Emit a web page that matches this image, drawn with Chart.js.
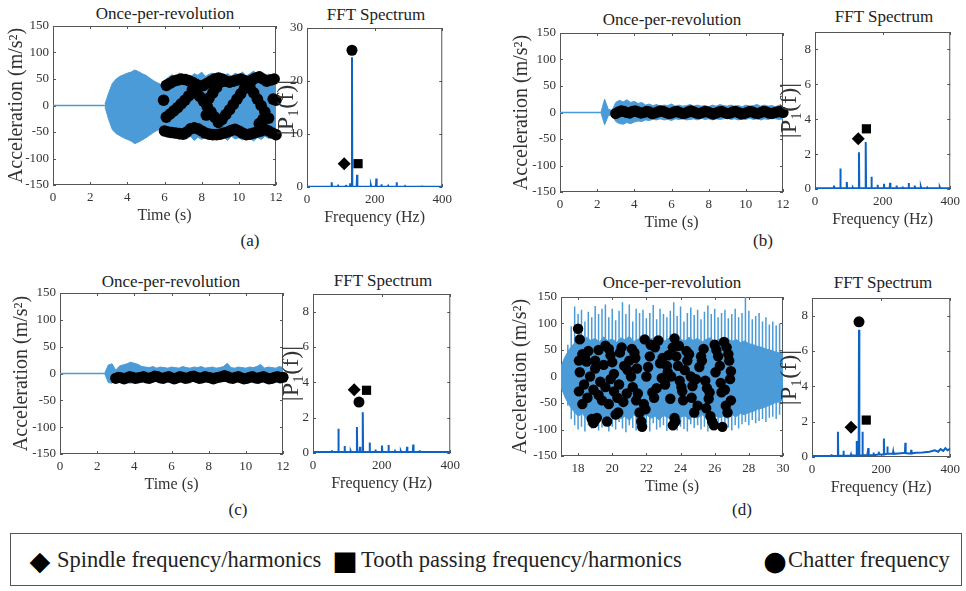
<!DOCTYPE html>
<html>
<head>
<meta charset="utf-8">
<script src="https://cdn.jsdelivr.net/npm/chart.js@4.4.0/dist/chart.umd.min.js"></script>
<style>
body { margin: 0; background: #fff; }
#fig { position: relative; width: 966px; height: 591px; overflow: hidden; font-family: "Liberation Serif", "Times New Roman", "DejaVu Serif", serif; color: #222; }
#fig canvas { position: absolute; }
.t { position: absolute; transform: translate(-50%, -50%); white-space: nowrap; font-size: 17px; }
.lab { position: absolute; transform: translate(-50%, -50%); font-size: 17px; }
.legend { position: absolute; left: 10px; top: 533px; width: 950px; height: 51px; border: 1px solid #555; }
.legend span { position: absolute; top: 50%; transform: translateY(-50%); white-space: nowrap; font-size: 22.5px; }
.legend .sym { font-family: "DejaVu Sans", sans-serif; font-size: 27px; color: #000; transform: translate(-50%, -50%); }
</style>
</head>
<body>
<div id="fig">
  <div class="t" style="left:165px;top:14px">Once-per-revolution</div>
  <div class="t" style="left:376px;top:15px">FFT Spectrum</div>
  <div class="t" style="left:672px;top:20px">Once-per-revolution</div>
  <div class="t" style="left:884px;top:17px">FFT Spectrum</div>
  <div class="t" style="left:171px;top:282px">Once-per-revolution</div>
  <div class="t" style="left:383px;top:281px">FFT Spectrum</div>
  <div class="t" style="left:672px;top:283px">Once-per-revolution</div>
  <div class="t" style="left:883px;top:283px">FFT Spectrum</div>
  <div class="lab" style="left:250px;top:241px">(a)</div>
  <div class="lab" style="left:763px;top:241px">(b)</div>
  <div class="lab" style="left:238px;top:510px">(c)</div>
  <div class="lab" style="left:742px;top:510px">(d)</div>
  <div class="legend">
    <span class="sym" style="left:29px">◆</span>
    <span style="left:46px">Spindle frequency/harmonics</span>
    <span class="sym" style="left:334px">■</span>
    <span style="left:350px">Tooth passing frequency/harmonics</span>
    <span class="sym" style="left:764px">●</span>
    <span style="left:777px">Chatter frequency</span>
  </div>
</div>
<script>
"use strict";

// tick labels
const timeTicks = [0, 2, 4, 6, 8, 10, 12];
const timeTicksD = [18, 20, 22, 24, 26, 28, 30];
const accTicks = [-150, -100, -50, 0, 50, 100, 150];
const freqTicks = [0, 200, 400];
const fftTicksA = [0, 10, 20, 30];
const fftTicks = [0, 2, 4, 6, 8];

// vibration envelopes (m/s^2), sampled every envStep s from envStart
const envStartA = 2.8, envStepA = 0.2;
const upperA = [3, 24, 42, 50, 55, 58, 61, 63, 67, 64, 60, 57, 52, 47, 43, 40, 47, 53, 58, 55,
  61, 56, 59, 54, 60, 57, 63, 55, 59, 61, 56, 62, 57, 60, 55, 61, 58, 63, 56, 60, 65, 57, 61, 55, 59, 56, 60];
const lowerA = [-3, -27, -46, -53, -57, -61, -64, -67, -72, -69, -65, -61, -56, -51, -47, -43, -49, -56, -61, -58,
  -64, -60, -63, -58, -66, -60, -64, -58, -62, -65, -59, -63, -60, -66, -58, -63, -61, -65, -58, -62, -67, -60, -64, -58, -62, -59, -63];

const envStartB = 2.2, envStepB = 0.2;
const upperB = [0, 25, 6, 4, 19, 23, 20, 24, 19, 21, 17, 19, 14, 16, 13, 15, 12, 14, 13, 16,
  12, 14, 12, 13, 15, 12, 14, 12, 13, 11, 14, 12, 15, 13, 12, 14, 12, 13, 11, 14, 12, 13, 15, 12, 14, 12, 13, 11, 14, 12];
const lowerB = [0, -23, -6, -4, -17, -21, -22, -19, -21, -18, -16, -17, -14, -15, -13, -14, -12, -14, -13, -15,
  -12, -13, -12, -14, -13, -12, -14, -11, -13, -12, -14, -12, -13, -12, -11, -13, -12, -14, -12, -13, -11, -13, -12, -14, -12, -13, -11, -12, -13, -12];

const envStartC = 2.4, envStepC = 0.2;
const upperC = [0, 16, 18, 6, 14, 16, 18, 21, 19, 17, 13, 12, 11, 13, 10, 12, 11, 10, 12, 11,
  10, 13, 11, 10, 12, 11, 13, 10, 11, 12, 10, 11, 13, 19, 11, 10, 12, 11, 10, 12, 11, 13, 17, 10, 12, 11, 10, 13, 11];
const lowerC = [0, -17, -18, -6, -14, -16, -17, -18, -17, -16, -15, -14, -15, -13, -15, -14, -13, -15, -14, -13,
  -14, -15, -13, -14, -15, -13, -14, -15, -13, -14, -15, -13, -14, -15, -13, -14, -15, -13, -14, -15, -13, -14, -15, -13, -14, -13, -15, -14, -13];

const envStartD = 17, envStepD = 0.25;
const upperD = [20, 38, 52, 62, 70, 66, 74, 68, 72, 65, 75, 67, 71, 64, 73, 69, 76, 66, 70, 74,
  65, 72, 68, 75, 66, 71, 73, 64, 70, 67, 74, 68, 72, 65, 70, 73, 66, 71, 68, 72, 66, 70, 64, 67, 62, 60, 57, 55, 52, 50, 47, 45, 42];
const lowerD = [-20, -40, -55, -66, -75, -70, -80, -72, -78, -70, -82, -74, -77, -70, -80, -75, -83, -72, -78, -81,
  -72, -79, -75, -82, -73, -78, -80, -71, -77, -74, -81, -75, -79, -72, -77, -80, -73, -78, -75, -79, -72, -76, -70, -72, -68, -66, -62, -60, -57, -54, -50, -48, -45];

// isolated peaks of the chatter record (d)
const spikeStartD = 17.4, spikeStepD = 0.2;
const spikeTopD = [60, 95, 132, 118, 126, 104, 122, 112, 133, 118, 128, 136, 112, 128, 106, 124, 140, 118, 136, 104,
  128, 120, 126, 110, 120, 135, 108, 128, 118, 112, 124, 140, 114, 132, 104, 120, 130, 116, 126, 108,
  122, 134, 118, 128, 112, 120, 126, 110, 118, 128, 112, 120, 150, 124, 108, 114, 120, 104, 112, 98, 104, 96, 100];
const spikeBotD = [-55, -80, -92, -100, -95, -104, -92, -98, -88, -102, -96, -90, -104, -95, -100, -86, -98, -105, -92, -97,
  -102, -90, -99, -95, -104, -88, -100, -96, -92, -103, -97, -88, -102, -95, -99, -104, -90, -97, -92, -100,
  -95, -104, -90, -98, -93, -100, -88, -96, -102, -92, -98, -90, -86, -92, -82, -88, -84, -80, -86, -78, -76, -80, -72];

// once-per-revolution samples
const dotsAT = [6.1, 6.3, 6.5, 6.7, 6.9, 7.1, 7.3, 7.5, 7.7, 7.9, 8.1, 8.3, 8.5, 8.7, 8.9, 9.1, 9.3, 9.5, 9.7, 9.9,
  10.1, 10.3, 10.5, 10.7, 10.9, 11.1, 11.3, 11.5, 11.7, 11.9,
  6.0, 6.2, 6.4, 6.6, 6.8, 7.0, 7.2, 7.4, 7.6, 7.8, 8.0, 8.2, 8.4, 8.6, 8.8, 9.0, 9.2, 9.4, 9.6, 9.8,
  10.0, 10.2, 10.4, 10.6, 10.8, 11.0, 11.2, 11.4, 11.6, 11.8, 12.0,
  5.95, 6.1, 6.3, 6.5, 6.7, 6.9, 7.1, 7.3, 7.5, 7.7, 7.9, 8.1, 8.3, 8.5, 8.7, 8.9, 8.25, 8.4, 8.6, 8.8, 9.0,
  9.1, 9.3, 9.5, 9.7, 9.9, 10.1, 10.3, 10.6, 10.8, 11.0, 11.2, 11.4, 11.6, 11.1, 11.3, 11.85, 12.0];
const dotsAV = [38, 42, 46, 48, 50, 49, 47, 44, 40, 36, 38, 42, 46, 50, 52, 50, 46, 44, 46, 48,
  50, 47, 44, 48, 52, 54, 50, 46, 48, 50,
  -48, -50, -51, -52, -53, -54, -50, -44, -42, -44, -48, -52, -54, -55, -55, -54, -52, -50, -47, -45,
  -48, -52, -55, -54, -52, -50, -48, -45, -48, -52, -55,
  10, -22, -16, -10, -4, 3, 10, 18, 30, 24, 17, 8, -2, -12, -22, -32, -18, 14, 24, 34, 44,
  -26, -17, -8, 2, 12, 22, 32, 34, 24, 12, 0, -12, -24, -34, -26, 12, 10];

const dotsStartB = 3.0, dotsStepB = 0.15;
const dotsB = [-2, 1, 3, 2, 0, -1, 2, 3, 1, -1, 0, 2, 1, -2, -1, 1, 3, 2, 0, -2,
  -1, 1, 2, 0, -2, -1, 1, 3, 1, -1, -2, 0, 2, 1, -1, -3, -1, 1, 2, 0,
  -2, -1, 1, 2, 0, -3, -2, 0, 2, 1, -1, -2, 0, 2, 1, -1, -2, 0, 1, 2, 0];

const dotsStartC = 3.0, dotsStepC = 0.15;
const dotsC = [-9, -7, -8, -10, -8, -6, -7, -9, -8, -7, -6, -8, -9, -7, -5, -6, -8, -9, -7, -6,
  -8, -10, -8, -6, -7, -9, -8, -6, -5, -7, -9, -8, -6, -7, -8, -10, -8, -7, -6, -4,
  -6, -8, -9, -7, -6, -8, -10, -9, -7, -6, -8, -9, -7, -6, -8, -10, -9, -7, -6, -8, -7];

const dotsDT = [18.0, 18.1, 18.05, 18.1, 18.05, 18.25, 18.25, 18.5, 18.55, 18.35, 18.7, 18.8, 18.9, 19.0, 19.1, 19.0, 19.2, 19.0, 19.2, 19.4,
  19.6, 19.6, 19.8, 19.9, 20.0, 19.8, 19.7, 20.1, 20.1, 20.3, 20.2, 20.35, 20.45, 20.55, 20.65, 20.85, 20.9, 21.0, 21.1, 21.2,
  21.3, 21.35, 21.45, 21.5, 21.6, 21.7, 21.75, 21.85, 21.9, 22.0, 22.1, 22.2, 22.35, 22.45, 22.5, 22.7, 22.8, 22.9, 23.1, 23.2,
  23.3, 23.45, 23.55, 23.7, 23.65, 23.55, 23.65, 23.75, 23.85, 23.95, 24.05, 24.15, 24.25, 24.4, 24.5, 24.6, 24.7, 24.8, 25.0, 25.1,
  25.2, 25.35, 25.45, 25.55, 25.65, 25.75, 25.85, 25.95, 26.0, 26.1, 26.2, 26.3, 26.4, 26.45, 26.55, 26.65, 26.75, 26.7, 26.85, 26.95,
  26.9, 26.95,
  18.4, 18.6, 18.9, 19.3, 19.5, 19.9, 20.4, 20.7, 21.15, 21.4, 21.95, 22.25, 22.6, 22.95, 23.25, 23.4, 23.9, 24.1, 24.35, 24.65,
  24.9, 25.25, 25.5, 25.7, 26.05, 26.35, 26.6, 26.8];
const dotsDV = [90, 70, 30, 8, -28, -52, 42, 28, -40, -15, 0, -80, -88, -82, -78, 30, 50, 15, -35, -45,
  -20, 58, 52, 40, 27, -52, -85, 5, -28, -40, -72, -68, 45, 55, -48, -32, 12, 30, 0, -20,
  45, 35, 15, -32, -68, -85, -95, -52, 70, 0, 18, 38, -30, -40, 55, 68, 25, -3, -15, 20,
  40, 0, -92, -85, -78, 55, 72, 38, 20, -8, -20, -45, 12, 30, 42, 0, -18, -68, -55, 18,
  38, 52, -8, -22, -42, -75, -85, -92, 60, 50, 38, 20, -30, -95, 65, -55, -68, 55, 30, 10,
  -5, -45,
  35, 48, -25, -10, 22, -5, -15, 20, 52, -45, -62, 60, -22, 35, 8, -42, 58, -28, 48, -40,
  -5, 30, -60, -30, 8, -12, -25, 42];

// FFT peaks: frequency (Hz) and |P1(f)|
const peakFA = [55, 73, 92, 115, 128, 133, 148, 170, 189, 205, 220, 240, 265, 290, 315, 339, 365];
const peakAA = [0.15, 0.9, 0.2, 0.4, 0.7, 24.5, 2.3, 0.25, 0.3, 1.6, 0.5, 0.2, 0.9, 0.15, 0.2, 0.3, 0.15];
const peakFB = [18, 37, 56, 75, 94, 112, 130, 150, 167, 185, 204, 222, 241, 259, 277, 295, 313, 332, 350, 369, 387];
const peakAB = [0.05, 0.05, 0.2, 1.18, 0.4, 0.08, 2.1, 2.7, 0.7, 0.25, 0.3, 0.35, 0.2, 0.15, 0.35, 0.2, 0.12, 0.08, 0.08, 0.1, 0.05];
const peakFC = [18, 37, 55, 74, 92, 110, 128, 137, 145, 165, 182, 201, 220, 239, 256, 274, 292, 311, 330, 366];
const peakAC = [0.05, 0.05, 0.15, 1.37, 0.4, 0.1, 1.47, 0.35, 2.3, 0.6, 0.2, 0.42, 0.45, 0.1, 0.1, 0.35, 0.48, 0.15, 0.05, 0.05];
const peakFD = [56, 75, 91, 113, 129, 136, 146, 163, 178, 193, 208, 218, 235, 270, 287];
const peakAD = [0.15, 1.43, 0.35, 0.15, 0.9, 7.2, 1.43, 0.5, 0.25, 0.3, 1.05, 0.6, 0.3, 0.8, 0.4];

// noise floor under the peaks
const floorF = [0, 400];
const floorA = [0.05, 0.05];
const floorFD = [0, 40, 80, 120, 160, 200, 230, 250, 265, 280, 300, 320, 340, 355, 365, 372, 380, 386, 392, 398, 400];
const floorAD = [0.05, 0.06, 0.07, 0.08, 0.1, 0.14, 0.18, 0.2, 0.22, 0.2, 0.24, 0.26, 0.3, 0.38, 0.3, 0.45, 0.35, 0.5, 0.38, 0.45, 0.4];

// marked frequencies [Hz, |P1|]: spindle, tooth passing, chatter
const spindleA = [110, 4.4], toothA = [151, 4.4], chatterA = [133, 25.8];
const spindleB = [128, 2.88], toothB = [152, 3.45];
const spindleC = [120, 3.58], toothC = [156, 3.55], chatterC = [134, 2.88];
const spindleD = [113, 1.68], toothD = [157, 2.09], chatterD = [136, 7.65];

const font = "'Liberation Serif', 'Times New Roman', 'DejaVu Serif', serif";
const sigBlue = "#4a9bd8";
const fftBlue = "#0d62c4";
const boxColor = "#555";

const boxPlugin = {
    id: "box",
    beforeDatasetsDraw(chart) {
        const { ctx, chartArea: a, scales } = chart;
        ctx.save();
        ctx.strokeStyle = boxColor;
        ctx.lineWidth = 1;
        ctx.strokeRect(a.left + 0.5, a.top + 0.5, a.right - a.left - 1, a.bottom - a.top - 1);
        ctx.beginPath();
        scales.x.ticks.forEach(t => {
            const px = Math.round(scales.x.getPixelForValue(t.value)) + 0.5;
            ctx.moveTo(px, a.bottom); ctx.lineTo(px, a.bottom - 3);
            ctx.moveTo(px, a.top); ctx.lineTo(px, a.top + 3);
        });
        scales.y.ticks.forEach(t => {
            const py = Math.round(scales.y.getPixelForValue(t.value)) + 0.5;
            ctx.moveTo(a.left, py); ctx.lineTo(a.left + 3, py);
            ctx.moveTo(a.right, py); ctx.lineTo(a.right - 3, py);
        });
        ctx.stroke();
        ctx.restore();
    }
};

function axis(min, max, ticks, title, titleSize, fit, pad) {
    return {
        type: "linear", min: min, max: max,
        afterBuildTicks: s => { s.ticks = ticks.map(v => ({ value: v })); },
        afterFit: fit,
        grid: { display: false, drawTicks: false },
        border: { display: false },
        ticks: { color: "#333", font: { family: font, size: 13 }, padding: pad, maxRotation: 0, autoSkip: false, callback: v => String(v) },
        title: { display: true, text: title, color: "#333", font: { family: font, size: titleSize }, padding: 0 }
    };
}

function makeChart(o) {
    const padTop = 12, padRight = 12, xH = 40;
    const a = o.area;
    const canvas = document.createElement("canvas");
    canvas.width = o.yW + (a.r - a.l) + padRight;
    canvas.height = padTop + (a.b - a.t) + xH;
    canvas.style.left = (a.l - o.yW) + "px";
    canvas.style.top = (a.t - padTop) + "px";
    document.getElementById("fig").appendChild(canvas);
    new Chart(canvas, {
        type: "line",
        data: { datasets: o.datasets },
        options: {
            responsive: false,
            animation: false,
            devicePixelRatio: 1,
            layout: { padding: { left: 0, top: padTop, right: padRight, bottom: 0 } },
            plugins: { legend: { display: false }, tooltip: { enabled: false } },
            elements: { point: { radius: 0 }, line: { tension: 0 } },
            scales: {
                x: axis(o.x[0], o.x[1], o.xTicks, o.xTitle, 16, s => { s.height = xH; }, 5),
                y: axis(o.y[0], o.y[1], o.yTicks, o.yTitle, o.yTitleSize, s => { s.width = o.yW; }, 4)
            }
        },
        plugins: [boxPlugin]
    });
}

function envelope(start, step, values) {
    return values.map((v, i) => ({ x: start + i * step, y: v }));
}

// datasets with a higher order are painted first (underneath)
function signalSets(start, step, upper, lower, withLead) {
    const sets = [];
    if (withLead) {
        sets.push({ data: [{ x: 0, y: 0 }, { x: start, y: 0 }], borderColor: sigBlue, borderWidth: 1.5, order: 2 });
    }
    sets.push({ data: envelope(start, step, upper), borderColor: sigBlue, borderWidth: 1, fill: false, order: 2 });
    sets.push({ data: envelope(start, step, lower), borderColor: sigBlue, borderWidth: 1, fill: "-1", backgroundColor: sigBlue, order: 2 });
    return sets;
}

function dotSet(times, values, r) {
    return {
        data: values.map((v, i) => ({ x: times[i], y: v })), order: 0,
        showLine: false, pointRadius: r, pointBackgroundColor: "#000", pointBorderWidth: 0, clip: false
    };
}

function spectrum(peakF, peakA, fF, fA) {
    const base = f => {
        let best = 0;
        fF.forEach((g, i) => { if (Math.abs(g - f) < Math.abs(fF[best] - f)) best = i; });
        return fA[best];
    };
    const pts = fF.map((f, i) => ({ x: f, y: fA[i] }));
    peakF.forEach((f, i) => {
        pts.push({ x: f - 1, y: base(f) }, { x: f, y: peakA[i] }, { x: f + 1, y: base(f) });
    });
    return pts.sort((p, q) => p.x - q.x);
}

function marker(pt, style, r) {
    return {
        data: [{ x: pt[0], y: pt[1] }], showLine: false, pointStyle: style, pointRadius: r, order: 0,
        pointBackgroundColor: "#000", pointBorderColor: "#000", pointBorderWidth: 0, clip: false
    };
}

function fftSets(peakF, peakA, fF, fA, spindle, tooth, chatter) {
    const sets = [{ data: spectrum(peakF, peakA, fF, fA), borderColor: fftBlue, borderWidth: 2, order: 1 }];
    sets.push(marker(spindle, "rectRot", 6.5));
    sets.push(marker(tooth, "rect", 6.5));
    if (chatter) sets.push(marker(chatter, "circle", 5.5));
    return sets;
}

function spikeSet() {
    const data = [];
    spikeTopD.forEach((top, i) => {
        const t = spikeStartD + i * spikeStepD;
        data.push({ x: t, y: spikeBotD[i] }, { x: t, y: top }, { x: t, y: null });
    });
    return { data: data, borderColor: sigBlue, borderWidth: 1.5, spanGaps: false, order: 3 };
}

const accTitle = "Acceleration (m/s²)";
const fftTitle = "|P₁(f)|";

// (a)
makeChart({
    area: { l: 53, r: 276, t: 26, b: 185 }, yW: 48,
    x: [0, 12], xTicks: timeTicks, xTitle: "Time (s)",
    y: [-150, 150], yTicks: accTicks, yTitle: accTitle, yTitleSize: 20,
    datasets: signalSets(envStartA, envStepA, upperA, lowerA, true).concat([dotSet(dotsAT, dotsAV, 5.8)])
});
makeChart({
    area: { l: 307, r: 445, t: 28, b: 187 }, yW: 35,
    x: [0, 400], xTicks: freqTicks, xTitle: "Frequency (Hz)",
    y: [0, 30], yTicks: fftTicksA, yTitle: fftTitle, yTitleSize: 24,
    datasets: fftSets(peakFA, peakAA, floorF, floorA, spindleA, toothA, chatterA)
});

// (b)
makeChart({
    area: { l: 560, r: 783, t: 33, b: 192 }, yW: 50,
    x: [0, 12], xTicks: timeTicks, xTitle: "Time (s)",
    y: [-150, 150], yTicks: accTicks, yTitle: accTitle, yTitleSize: 20,
    datasets: signalSets(envStartB, envStepB, upperB, lowerB, true)
        .concat([dotSet(dotsB.map((v, i) => dotsStartB + i * dotsStepB), dotsB, 5.6)])
});
makeChart({
    area: { l: 815, r: 953, t: 32, b: 189 }, yW: 40,
    x: [0, 400], xTicks: freqTicks, xTitle: "Frequency (Hz)",
    y: [0, 9], yTicks: fftTicks, yTitle: fftTitle, yTitleSize: 24,
    datasets: fftSets(peakFB, peakAB, floorF, floorA, spindleB, toothB, null)
});

// (c)
makeChart({
    area: { l: 60, r: 283, t: 293, b: 454 }, yW: 50,
    x: [0, 12], xTicks: timeTicks, xTitle: "Time (s)",
    y: [-150, 150], yTicks: accTicks, yTitle: accTitle, yTitleSize: 20,
    datasets: signalSets(envStartC, envStepC, upperC, lowerC, true)
        .concat([dotSet(dotsC.map((v, i) => dotsStartC + i * dotsStepC), dotsC, 5.6)])
});
makeChart({
    area: { l: 313, r: 453, t: 294, b: 453 }, yW: 36,
    x: [0, 400], xTicks: freqTicks, xTitle: "Frequency (Hz)",
    y: [0, 9], yTicks: fftTicks, yTitle: fftTitle, yTitleSize: 24,
    datasets: fftSets(peakFC, peakAC, floorF, floorA, spindleC, toothC, chatterC)
});

// (d)
makeChart({
    area: { l: 561, r: 783, t: 297, b: 456 }, yW: 52,
    x: [17, 30], xTicks: timeTicksD, xTitle: "Time (s)",
    y: [-150, 150], yTicks: accTicks, yTitle: accTitle, yTitleSize: 20,
    datasets: [spikeSet()].concat(signalSets(envStartD, envStepD, upperD, lowerD, false), [dotSet(dotsDT, dotsDV, 5.2)])
});
makeChart({
    area: { l: 812, r: 953, t: 298, b: 457 }, yW: 37,
    x: [0, 400], xTicks: freqTicks, xTitle: "Frequency (Hz)",
    y: [0, 9], yTicks: fftTicks, yTitle: fftTitle, yTitleSize: 24,
    datasets: fftSets(peakFD, peakAD, floorFD, floorAD, spindleD, toothD, chatterD)
});
</script>
</body>
</html>
